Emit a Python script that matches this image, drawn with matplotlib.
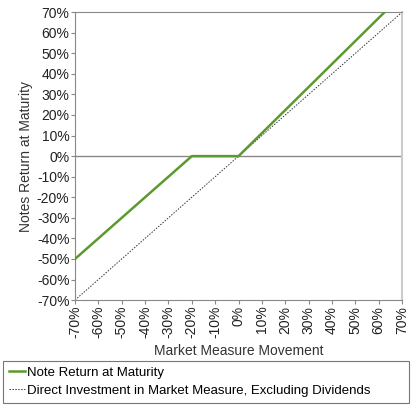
import numpy as np
import matplotlib
matplotlib.use("Agg")
import matplotlib.pyplot as plt
from matplotlib.ticker import FuncFormatter

# payoff at maturity (percent)
market_move = [-70, -20, 0, 70]
note_return = [-50, 0, 0, 78.4]
direct_x = [-70, 70]
direct_y = [-70, 70]
ticks = list(range(-70, 71, 10))

GREEN = "#5b9a2f"
plt.rcParams.update({"font.family": ["Liberation Sans", "DejaVu Sans"], "font.size": 10})
fig = plt.figure(figsize=(4.12, 4.05), dpi=100)
ax = fig.add_axes([0.182, 0.259, 0.794, 0.711])

ax.axhline(0, color="#888888", lw=1.0, zorder=1)
l1, = ax.plot(market_move, note_return, color=GREEN, lw=1.8, zorder=3,
              label="Note Return at Maturity")
l2, = ax.plot(direct_x, direct_y, color="#333333", lw=0.7, ls=(0, (1.5, 1.5)), zorder=2,
              label="Direct Investment in Market Measure, Excluding Dividends")

ax.set_xlim(-70, 70); ax.set_ylim(-70, 70)
ax.set_xticks(ticks); ax.set_yticks(ticks)
pct = FuncFormatter(lambda v, _: f"{v:.0f}%")
ax.xaxis.set_major_formatter(pct); ax.yaxis.set_major_formatter(pct)
ax.tick_params(axis="x", rotation=90, length=3, color="#888888", pad=1, labelcolor="#222222")
ax.tick_params(axis="y", length=3, color="#888888", pad=1, labelcolor="#222222")
for s in ["top", "left", "bottom"]:
    ax.spines[s].set_color("#888888")
ax.spines["right"].set_color("#cccccc")
ax.spines["right"].set_linewidth(1.5)
ax.set_xlabel("Market Measure Movement", color="#333333", labelpad=4)
ax.set_ylabel("Notes Return at Maturity", color="#333333", labelpad=3)

leg = fig.legend(handles=[l1, l2], loc="lower left", bbox_to_anchor=(0.007, 0.005, 0.986, 0.1),
                 mode="expand", frameon=True, fancybox=False, handlelength=1.2, handletextpad=0.2,
                 borderpad=0.45, labelspacing=0.45, fontsize=9.5, borderaxespad=0)
leg.get_frame().set_edgecolor("#555555")
leg.get_frame().set_linewidth(0.8)

fig.savefig("out.png", dpi=100)
